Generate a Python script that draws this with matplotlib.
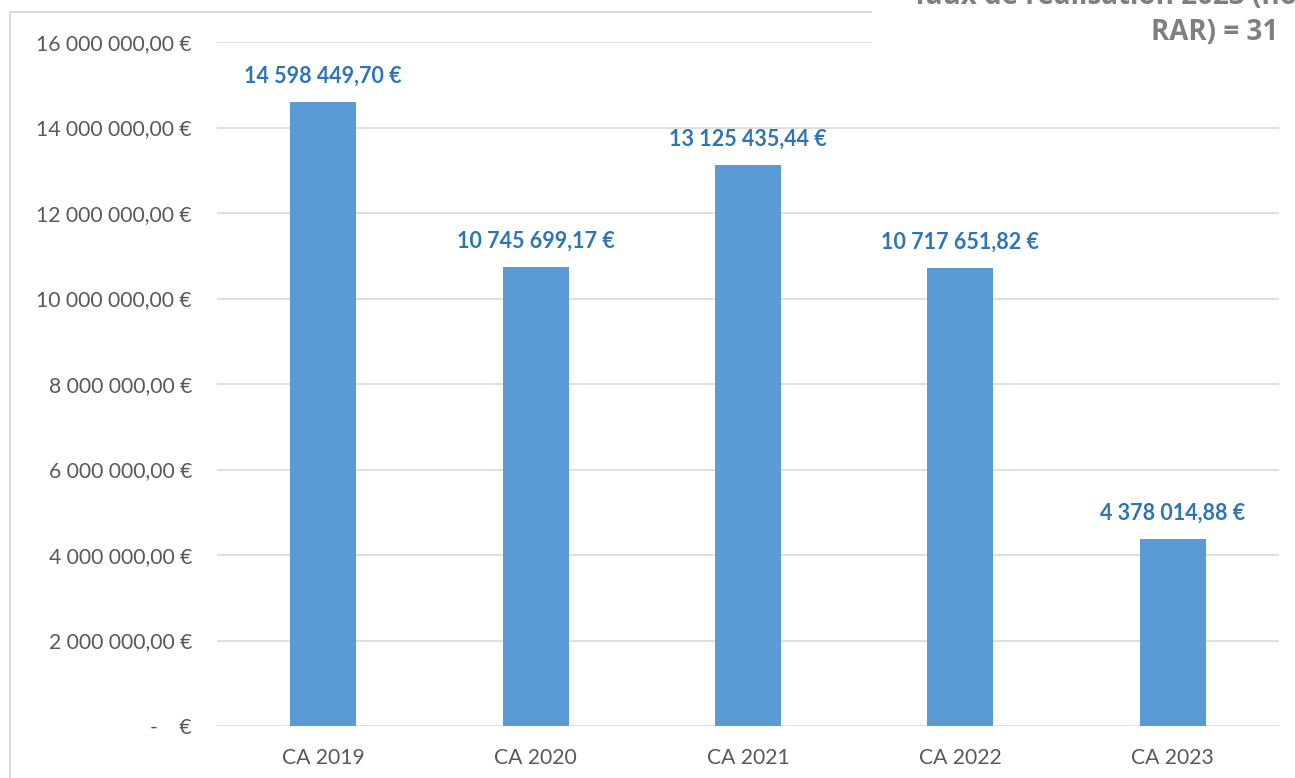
import matplotlib
matplotlib.use("Agg")
import matplotlib.pyplot as plt
from matplotlib.patches import Rectangle
from matplotlib.ticker import FixedLocator

categories = ["CA 2019", "CA 2020", "CA 2021", "CA 2022", "CA 2023"]
values = [14598449.70, 10745699.17, 13125435.44, 10717651.82, 4378014.88]
value_labels = ["14 598 449,70 €", "10 745 699,17 €", "13 125 435,44 €",
                "10 717 651,82 €", "4 378 014,88 €"]
ytick_values = [0, 2e6, 4e6, 6e6, 8e6, 10e6, 12e6, 14e6, 16e6]
ytick_labels = ["-    €", "2 000 000,00 €", "4 000 000,00 €", "6 000 000,00 €",
                "8 000 000,00 €", "10 000 000,00 €", "12 000 000,00 €",
                "14 000 000,00 €", "16 000 000,00 €"]
title_line1 = "Taux de réalisation 2023 (hors"
title_line2 = "RAR) = 31"

W, H = 1295, 778
fig = plt.figure(figsize=(W / 100, H / 100), dpi=100)
fig.patch.set_facecolor("white")

ax = fig.add_axes([217 / W, 1 - 726 / H, 1062 / W, (726 - 42) / H])
x = list(range(len(categories)))
ax.bar(x, values, width=0.31, color="#5B9BD5", zorder=3)
ax.set_xlim(-0.5, len(categories) - 0.5)
ax.set_ylim(0, 16e6)

ax.yaxis.set_major_locator(FixedLocator(ytick_values))
ax.set_yticklabels(ytick_labels)
ax.set_xticks(x)
ax.set_xticklabels(categories)
ax.tick_params(axis="both", length=0, labelsize=15.2, labelcolor="#595959")
ax.tick_params(axis="y", pad=18)
ax.tick_params(axis="x", pad=16)
for lab in ax.get_xticklabels() + ax.get_yticklabels():
    lab.set_fontfamily("Lato")

ax.grid(axis="y", color="#D9D9D9", linewidth=1.2, zorder=0)
ax.set_axisbelow(True)
for s in ax.spines.values():
    s.set_visible(False)

for xi, v, lab in zip(x, values, value_labels):
    ax.annotate(lab, (xi, v), xytext=(0, 13.5), textcoords="offset points",
                ha="center", va="baseline", fontsize=15.5, fontweight="bold",
                color="#2E75B6", family="Lato", zorder=4)

# chart border (partly outside the crop)
border = Rectangle((10 / W, -0.2), 1.5, 1 - 12 / H + 0.2, transform=fig.transFigure,
                   fill=False, edgecolor="#D9D9D9", linewidth=1.5, zorder=1)
fig.add_artist(border)

# white text box covering top right
box = Rectangle((872 / W, 1 - 58 / H), 1.0, 0.2, transform=fig.transFigure,
                facecolor="white", edgecolor="none", zorder=5)
fig.add_artist(box)

fig.text(912 / W, 1 - 4 / H, title_line1, ha="left", va="baseline", fontsize=20,
         fontweight="bold", color="#7F7F7F", family="Open Sans", zorder=6)
fig.text(1151 / W, 1 - 40 / H, title_line2, ha="left", va="baseline", fontsize=20,
         fontweight="bold", color="#7F7F7F", family="Open Sans", zorder=6)

fig.savefig("out.png", dpi=100)
